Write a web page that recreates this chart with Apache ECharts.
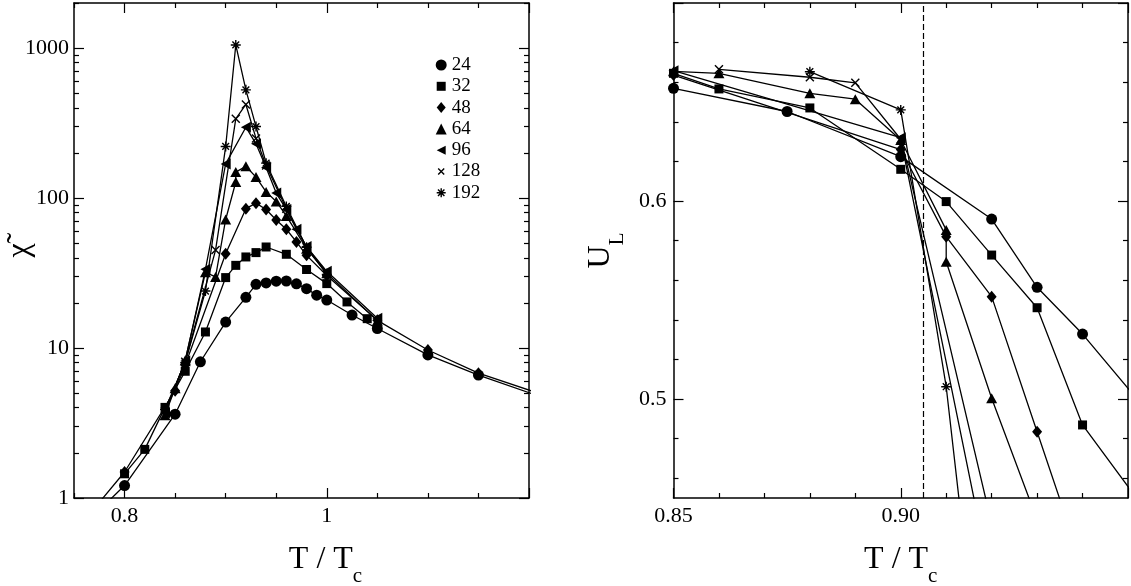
<!DOCTYPE html>
<html><head><meta charset="utf-8">
<script src="https://cdn.jsdelivr.net/npm/echarts@6/dist/echarts.min.js"></script>
<style>html,body{margin:0;padding:0;background:#fff}#c{width:1131px;height:586px}</style>
</head><body><div id="c"></div>
<script>
const FONT = "'Liberation Serif','DejaVu Serif',serif";

// ---- series names / markers ----
const sizes = ['24', '32', '48', '64', '96', '128', '192'];

// ---- left panel: chi~ vs T/Tc ----
const chiT24 = [0.75, 0.8, 0.85, 0.875, 0.9, 0.92, 0.93, 0.94, 0.95, 0.96, 0.97, 0.98, 0.99, 1.0, 1.025, 1.05, 1.1, 1.15, 1.25];
const chi24  = [0.57, 1.21, 3.62, 8.1, 14.9, 21.8, 26.6, 27.2, 27.9, 28.0, 26.8, 24.9, 22.5, 20.9, 16.6, 13.5, 9.0, 6.6, 3.85];
const chiT32 = [0.8, 0.82, 0.84, 0.86, 0.88, 0.9, 0.91, 0.92, 0.93, 0.94, 0.96, 0.98, 1.0, 1.02, 1.04];
const chi32  = [1.45, 2.11, 4.02, 7.0, 12.8, 29.5, 35.6, 40.5, 43.3, 47.2, 42.2, 33.4, 26.9, 20.3, 15.7];
const chiT48 = [0.75, 0.8, 0.85, 0.86, 0.9, 0.92, 0.93, 0.94, 0.95, 0.96, 0.97, 0.98, 1.0, 1.05, 1.1, 1.15, 1.25];
const chi48  = [0.585, 1.49, 5.2, 7.7, 42.5, 85, 92.5, 84, 71.5, 62, 51, 41.5, 30.5, 15.3, 9.7, 6.8, 4.05];
const chiT64 = [0.84, 0.85, 0.86, 0.88, 0.89, 0.9, 0.91, 0.91, 0.92, 0.93, 0.94, 0.95, 0.96, 0.98, 1.0, 1.05];
const chi64  = [3.57, 5.4, 8.3, 32, 29.8, 72, 128, 149, 163, 138, 110, 95, 76, 46, 31.5, 15.2];
const chiT96 = [0.84, 0.86, 0.88, 0.9, 0.92, 0.93, 0.94, 0.95, 0.96, 0.97, 0.98, 1.0, 1.05];
const chi96  = [3.7, 8.2, 33.5, 169, 297, 230, 160, 108, 84, 62, 47.5, 32.5, 15.8];
const chiT128 = [0.84, 0.86, 0.89, 0.91, 0.92, 0.93, 0.94, 0.96, 0.98, 1.0];
const chi128  = [3.8, 8.1, 45, 338, 421, 250, 165, 85, 47, 32];
const chiT192 = [0.84, 0.86, 0.88, 0.9, 0.91, 0.92, 0.93, 0.94, 0.96, 0.98, 1.0];
const chi192  = [3.9, 8.0, 24, 221, 1050, 527, 300, 171, 88, 47, 31];

// ---- right panel: U_L vs T/Tc ----
const ulT24 = [0.85, 0.875, 0.9, 0.92, 0.93, 0.94, 0.96];
const ul24  = [0.6569, 0.6452, 0.6224, 0.5909, 0.5564, 0.5328, 0.478];
const ulT32 = [0.85, 0.86, 0.88, 0.9, 0.91, 0.92, 0.93, 0.94, 0.96];
const ul32  = [0.6645, 0.6566, 0.647, 0.616, 0.5997, 0.5727, 0.5461, 0.4869, 0.4247];
const ulT48 = [0.85, 0.9, 0.91, 0.92, 0.93, 0.94];
const ul48  = [0.6636, 0.626, 0.582, 0.5517, 0.4835, 0.4153];
const ulT64 = [0.85, 0.86, 0.88, 0.89, 0.9, 0.91, 0.91, 0.92, 0.93];
const ul64  = [0.6655, 0.6645, 0.6544, 0.6514, 0.6308, 0.5854, 0.5693, 0.5004, 0.439];
const ulT96 = [0.85, 0.9, 0.92];
const ul96  = [0.6658, 0.632, 0.437];
const ulT128 = [0.86, 0.88, 0.89, 0.9, 0.92];
const ul128  = [0.6665, 0.6625, 0.6597, 0.6312, 0.406];
const ulT192 = [0.88, 0.9, 0.91, 0.92];
const ul192  = [0.6653, 0.646, 0.5062, 0.305];
const dashedT = 0.905;

// ---- ticks and tick labels ----
const chiXMajor = [0.8, 1.0, 1.2];
const chiXMinor = [0.75, 0.85, 0.9, 0.95, 1.05, 1.1, 1.15];
const chiXLabels = [0.8, 1.0];
const chiYMajor = [1, 10, 100, 1000];
const chiYMinor = [2, 3, 4, 5, 6, 7, 8, 9, 20, 30, 40, 50, 60, 70, 80, 90, 200, 300, 400, 500, 600, 700, 800, 900, 2000];
const chiYLabels = [1, 10, 100, 1000];
const ulXMajor = [0.85, 0.9, 0.95];
const ulXMinor = [0.86, 0.87, 0.88, 0.89, 0.91, 0.92, 0.93, 0.94];
const ulXLabels = [0.85, 0.9];
const ulYMajor = [0.5, 0.6, 0.7];
const ulYMinor = [0.46, 0.48, 0.52, 0.54, 0.56, 0.58, 0.62, 0.64, 0.66, 0.68];
const ulYLabels = [0.5, 0.6];

const symbols = ['circle', 'rect', 'diamond', 'triangle',
  'path://M0,5L10,0L10,10Z',
  'path://M0,0L10,10M10,0L0,10',
  'path://M5,0L5,10M0,5L10,5M1.6,1.6L8.4,8.4M8.4,1.6L1.6,8.4'];
const legendIcons = ['circle',
  'path://M0,0M11,11M1,1L10,1L10,10L1,10Z',
  'path://M0,0M11,11M5.5,0L10,5.5L5.5,11L1,5.5Z',
  'triangle',
  'path://M0,0M11,11M1,5.5L10,1L10,10Z',
  'path://M0,0M11,11M2.5,2.5L8.5,8.5M8.5,2.5L2.5,8.5',
  'path://M0,0M11,11M5.5,1L5.5,10M1,5.5L10,5.5M2.3,2.3L8.7,8.7M8.7,2.3L2.3,8.7'];
const symbolSizes = [11, 9, [10, 12], [11, 10], [10, 11], 8, 10];
const strokeOnly = [false, false, false, false, false, true, true];

const chiX = [chiT24, chiT32, chiT48, chiT64, chiT96, chiT128, chiT192];
const chiY = [chi24, chi32, chi48, chi64, chi96, chi128, chi192];
const ulX = [ulT24, ulT32, ulT48, ulT64, ulT96, ulT128, ulT192];
const ulY = [ul24, ul32, ul48, ul64, ul96, ul128, ul192];

function mkAxis(o) {
  return {
    type: o.type || 'value', gridIndex: o.grid, position: o.pos, min: o.min, max: o.max,
    axisLine: { show: !!o.line, onZero: false, lineStyle: { color: '#000', width: 1.5 } },
    axisTick: { show: true, inside: true, length: o.len, customValues: o.ticks, lineStyle: { color: '#000', width: 1.2 } },
    axisLabel: o.labels ? { show: true, customValues: o.labels, formatter: o.fmt, margin: o.margin,
      color: '#000', fontFamily: FONT, fontSize: 22 } : { show: false },
    splitLine: { show: false },
    name: o.name || '', nameLocation: 'middle', nameGap: o.nameGap || 0,
    nameMoveOverlap: o.moveOverlap !== false,
    nameRotate: o.nameRotate, nameTextStyle: o.nameStyle || {},
    silent: true, z: 5
  };
}
const sub = (big, small, pad) => ({
  rich: {
    a: { fontFamily: FONT, fontSize: big, lineHeight: big, color: '#000', verticalAlign: 'top' },
    b: { fontFamily: FONT, fontSize: small, lineHeight: small, color: '#000', verticalAlign: 'top', padding: [pad, 0, 0, 0] }
  }
});

const xAxes = [
  mkAxis({ grid: 0, pos: 'bottom', min: 0.75, max: 1.2, line: true, len: 10, ticks: chiXMajor, labels: chiXLabels,
    fmt: v => String(+v.toFixed(2)), margin: 7, name: '{a|T / T}{b|c}', nameGap: 46,
    nameStyle: Object.assign(sub(32, 21, 22), { padding: [0, 0, 0, 48] }) }),
  mkAxis({ grid: 0, pos: 'bottom', min: 0.75, max: 1.2, len: 5, ticks: chiXMinor }),
  mkAxis({ grid: 0, pos: 'top', min: 0.75, max: 1.2, line: true, len: 10, ticks: chiXMajor }),
  mkAxis({ grid: 0, pos: 'top', min: 0.75, max: 1.2, len: 5, ticks: chiXMinor }),
  mkAxis({ grid: 1, pos: 'bottom', min: 0.85, max: 0.95, line: true, len: 10, ticks: ulXMajor, labels: ulXLabels,
    fmt: v => v.toFixed(2), margin: 7, name: '{a|T / T}{b|c}', nameGap: 46, nameStyle: sub(32, 21, 22) }),
  mkAxis({ grid: 1, pos: 'bottom', min: 0.85, max: 0.95, len: 5, ticks: ulXMinor }),
  mkAxis({ grid: 1, pos: 'top', min: 0.85, max: 0.95, line: true, len: 10, ticks: ulXMajor }),
  mkAxis({ grid: 1, pos: 'top', min: 0.85, max: 0.95, len: 5, ticks: ulXMinor })
];
const yAxes = [
  Object.assign(mkAxis({ type: 'log', grid: 0, pos: 'left', min: 1, max: 2000, line: true, len: 10, ticks: chiYMajor,
    labels: chiYLabels, fmt: v => String(Math.round(v)), margin: 5, name: 'χ\u0303', nameGap: 38, moveOverlap: false,
    nameStyle: { fontFamily: FONT, fontSize: 32, color: '#000' } }), { logBase: 10 }),
  Object.assign(mkAxis({ type: 'log', grid: 0, pos: 'left', min: 1, max: 2000, len: 5, ticks: chiYMinor }), { logBase: 10 }),
  Object.assign(mkAxis({ type: 'log', grid: 0, pos: 'right', min: 1, max: 2000, line: true, len: 10, ticks: chiYMajor }), { logBase: 10 }),
  Object.assign(mkAxis({ type: 'log', grid: 0, pos: 'right', min: 1, max: 2000, len: 5, ticks: chiYMinor }), { logBase: 10 }),
  mkAxis({ grid: 1, pos: 'left', min: 0.45, max: 0.7, line: true, len: 10, ticks: ulYMajor, labels: ulYLabels,
    fmt: v => v.toFixed(1), margin: 7, name: '{a|U}{b|L}', nameGap: 57, nameStyle: sub(32, 21, 22) }),
  mkAxis({ grid: 1, pos: 'left', min: 0.45, max: 0.7, len: 5, ticks: ulYMinor }),
  mkAxis({ grid: 1, pos: 'right', min: 0.45, max: 0.7, line: true, len: 10, ticks: ulYMajor }),
  mkAxis({ grid: 1, pos: 'right', min: 0.45, max: 0.7, len: 5, ticks: ulYMinor })
];

function mkSeries(i, xs, ys, xi, yi) {
  return {
    type: 'line', name: sizes[i], xAxisIndex: xi, yAxisIndex: yi,
    data: xs.map((x, k) => [x, ys[k]]),
    symbol: symbols[i], symbolSize: symbolSizes[i], showAllSymbol: true, showSymbol: true,
    lineStyle: { color: '#000', width: 1.3 },
    itemStyle: { color: '#000', borderColor: '#000', borderWidth: strokeOnly[i] ? 1.4 : 0 },
    emphasis: { disabled: true }, clip: true, animation: false, z: 3
  };
}
const series = [];
for (let i = 0; i < sizes.length; i++) series.push(mkSeries(i, chiX[i], chiY[i], 0, 0));
for (let i = 0; i < sizes.length; i++) series.push(mkSeries(i, ulX[i], ulY[i], 4, 4));
series[7].markLine = {
  silent: true, symbol: 'none', label: { show: false }, animation: false, precision: 4,
  lineStyle: { color: '#000', type: [6, 3], width: 1.2 },
  data: [{ xAxis: dashedT }]
};

const chart = echarts.init(document.getElementById('c'), null, { renderer: 'canvas' });
chart.setOption({
  animation: false,
  backgroundColor: '#fff',
  grid: [
    { left: 74, top: 3, width: 455, height: 495, outerBoundsMode: 'none', containLabel: false },
    { left: 673.5, top: 3, width: 454.5, height: 495, outerBoundsMode: 'none', containLabel: false }
  ],
  legend: {
    orient: 'vertical', left: 435, top: 55, padding: 0, itemWidth: 11, itemHeight: 11, itemGap: 1.3,
    selectedMode: false,
    textStyle: { fontFamily: FONT, fontSize: 19, color: '#000', lineHeight: 20 },
    data: sizes.map((s, i) => ({
      name: s, icon: legendIcons[i],
      itemStyle: { color: '#000', borderColor: '#000', borderWidth: strokeOnly[i] ? 1.4 : 0 }
    }))
  },
  xAxis: xAxes,
  yAxis: yAxes,
  series: series
});
</script>
</body></html>
